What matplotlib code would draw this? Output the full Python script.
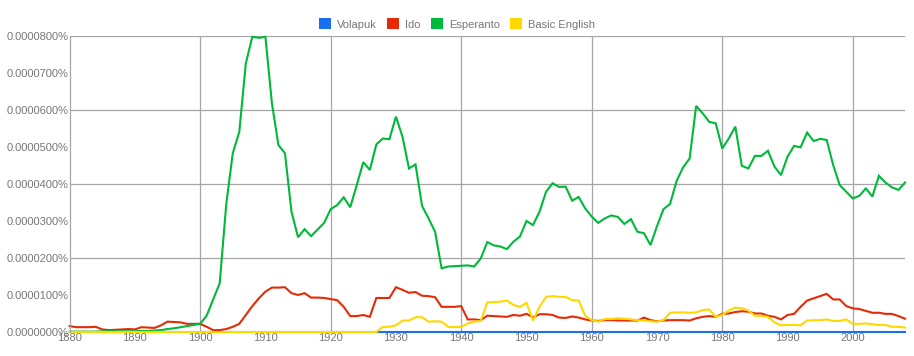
#!/usr/bin/env python3
''' Ngram-style chart: Volapuk, Ido, Esperanto, Basic English 1880-2008
'''

import numpy as np
import matplotlib
matplotlib.use('Agg')
from matplotlib import pyplot
from matplotlib.patches import Patch
from matplotlib.ticker import FuncFormatter

#
# data (values in units of 0.00001 %)
#

years = np.arange(1880, 2009)

volapuk = [
    0.00, 0.00, 0.00, 0.00, 0.00, 0.00, 0.00, 0.00, 0.00, 0.00,  # 1880
    0.00, 0.00, 0.00, 0.00, 0.00, 0.00, 0.00, 0.00, 0.00, 0.00,  # 1890
    0.00, 0.00, 0.00, 0.00, 0.00, 0.00, 0.00, 0.00, 0.00, 0.00,  # 1900
    0.00, 0.00, 0.00, 0.00, 0.00, 0.00, 0.00, 0.00, 0.00, 0.00,  # 1910
    0.00, 0.00, 0.00, 0.00, 0.00, 0.00, 0.00, 0.00, 0.00, 0.00,  # 1920
    0.00, 0.00, 0.00, 0.00, 0.00, 0.00, 0.00, 0.00, 0.00, 0.00,  # 1930
    0.00, 0.00, 0.00, 0.00, 0.00, 0.00, 0.00, 0.00, 0.00, 0.00,  # 1940
    0.00, 0.00, 0.00, 0.00, 0.00, 0.00, 0.00, 0.00, 0.00, 0.00,  # 1950
    0.00, 0.00, 0.00, 0.00, 0.00, 0.00, 0.00, 0.00, 0.00, 0.00,  # 1960
    0.00, 0.00, 0.00, 0.00, 0.00, 0.00, 0.00, 0.00, 0.00, 0.00,  # 1970
    0.00, 0.00, 0.00, 0.00, 0.00, 0.00, 0.00, 0.00, 0.00, 0.00,  # 1980
    0.00, 0.00, 0.00, 0.00, 0.00, 0.00, 0.00, 0.00, 0.00, 0.00,  # 1990
    0.00, 0.00, 0.00, 0.00, 0.00, 0.00, 0.00, 0.00, 0.00,        # 2000
]

ido = [
    0.16, 0.13, 0.13, 0.13, 0.14, 0.07, 0.05, 0.06, 0.07, 0.08,  # 1880
    0.07, 0.13, 0.12, 0.11, 0.18, 0.28, 0.27, 0.26, 0.22, 0.22,  # 1890
    0.22, 0.14, 0.05, 0.05, 0.08, 0.14, 0.22, 0.46, 0.70, 0.91,  # 1900
    1.09, 1.20, 1.20, 1.21, 1.05, 1.00, 1.05, 0.93, 0.93, 0.92,  # 1910
    0.89, 0.86, 0.68, 0.43, 0.43, 0.46, 0.41, 0.92, 0.92, 0.92,  # 1920
    1.21, 1.14, 1.06, 1.08, 0.98, 0.97, 0.94, 0.68, 0.68, 0.68,  # 1930
    0.70, 0.34, 0.34, 0.32, 0.44, 0.43, 0.42, 0.41, 0.46, 0.44,  # 1940
    0.49, 0.40, 0.48, 0.48, 0.46, 0.39, 0.38, 0.42, 0.39, 0.34,  # 1950
    0.31, 0.30, 0.32, 0.32, 0.31, 0.31, 0.31, 0.31, 0.39, 0.32,  # 1960
    0.29, 0.31, 0.32, 0.32, 0.32, 0.31, 0.37, 0.41, 0.43, 0.41,  # 1970
    0.49, 0.50, 0.54, 0.56, 0.55, 0.50, 0.50, 0.44, 0.41, 0.34,  # 1980
    0.46, 0.49, 0.68, 0.85, 0.91, 0.97, 1.03, 0.88, 0.88, 0.70,  # 1990
    0.64, 0.62, 0.57, 0.52, 0.52, 0.49, 0.49, 0.43, 0.36,        # 2000
]

esperanto = [
    0.01, 0.01, 0.01, 0.01, 0.01, 0.02, 0.02, 0.02, 0.02, 0.02,  # 1880
    0.02, 0.03, 0.03, 0.04, 0.05, 0.08, 0.10, 0.13, 0.16, 0.19,  # 1890
    0.22, 0.44, 0.88, 1.32, 3.45, 4.83, 5.41, 7.26, 7.98, 7.95,  # 1900
    7.98, 6.18, 5.05, 4.83, 3.25, 2.56, 2.78, 2.59, 2.77, 2.95,  # 1910
    3.32, 3.43, 3.64, 3.37, 3.97, 4.59, 4.38, 5.07, 5.23, 5.21,  # 1920
    5.82, 5.28, 4.42, 4.53, 3.41, 3.07, 2.71, 1.72, 1.77, 1.78,  # 1930
    1.79, 1.80, 1.77, 1.99, 2.43, 2.34, 2.31, 2.24, 2.44, 2.58,  # 1940
    3.00, 2.89, 3.25, 3.79, 4.02, 3.92, 3.93, 3.55, 3.65, 3.34,  # 1950
    3.12, 2.95, 3.07, 3.15, 3.11, 2.92, 3.05, 2.71, 2.67, 2.35,  # 1960
    2.86, 3.32, 3.46, 4.08, 4.45, 4.69, 6.11, 5.91, 5.68, 5.64,  # 1970
    4.96, 5.23, 5.55, 4.49, 4.42, 4.76, 4.76, 4.90, 4.47, 4.24,  # 1980
    4.74, 5.03, 4.99, 5.39, 5.16, 5.22, 5.19, 4.51, 3.97, 3.79,  # 1990
    3.61, 3.68, 3.88, 3.66, 4.22, 4.04, 3.91, 3.84, 4.04,        # 2000
]

basic_english = [
    0.00, 0.00, 0.00, 0.00, 0.00, 0.00, 0.00, 0.00, 0.00, 0.00,  # 1880
    0.00, 0.00, 0.00, 0.00, 0.00, 0.00, 0.00, 0.00, 0.00, 0.00,  # 1890
    0.00, 0.00, 0.00, 0.00, 0.00, 0.00, 0.00, 0.00, 0.00, 0.00,  # 1900
    0.00, 0.00, 0.00, 0.00, 0.00, 0.00, 0.00, 0.00, 0.00, 0.00,  # 1910
    0.00, 0.00, 0.00, 0.00, 0.00, 0.00, 0.00, 0.00, 0.14, 0.14,  # 1920
    0.18, 0.31, 0.31, 0.40, 0.40, 0.28, 0.29, 0.28, 0.14, 0.13,  # 1930
    0.14, 0.23, 0.28, 0.30, 0.80, 0.81, 0.82, 0.85, 0.73, 0.68,  # 1940
    0.79, 0.31, 0.68, 0.95, 0.97, 0.95, 0.95, 0.86, 0.85, 0.44,  # 1950
    0.32, 0.28, 0.35, 0.35, 0.37, 0.36, 0.34, 0.32, 0.31, 0.29,  # 1960
    0.28, 0.32, 0.52, 0.53, 0.53, 0.52, 0.53, 0.59, 0.61, 0.41,  # 1970
    0.46, 0.58, 0.66, 0.64, 0.58, 0.44, 0.44, 0.41, 0.26, 0.18,  # 1980
    0.19, 0.19, 0.18, 0.31, 0.32, 0.32, 0.34, 0.30, 0.30, 0.34,  # 1990
    0.22, 0.22, 0.23, 0.21, 0.19, 0.19, 0.14, 0.14, 0.12,        # 2000
]

series_names = ['Volapuk', 'Ido', 'Esperanto', 'Basic English']
series_values = [volapuk, ido, esperanto, basic_english]
series_colors = ['#1a6ff0', '#e62a05', '#00b93a', '#ffd800']

y_ticks = [0, 1, 2, 3, 4, 5, 6, 7, 8]
y_grid = [0, 2, 4, 6, 8]
x_ticks = list(range(1880, 2009, 10))
x_grid = [1900, 1920, 1940, 1960, 1980, 2000]

#
# plot
#

pyplot.rcParams['font.family'] = ['Liberation Sans', 'DejaVu Sans']

W, H = 914, 356
fig = pyplot.figure(figsize=(W / 100, H / 100), dpi=100)
ax = fig.add_axes([69.6 / W, 24 / H, (905 - 69.6) / W, 296 / H])

gridc = '#a6a6a6'
textc = '#777777'

for g in y_grid:
    ax.axhline(g, color=gridc, lw=0.9, zorder=0)
for g in x_grid:
    ax.axvline(g, color=gridc, lw=0.9, zorder=0)

# lines at zero sit on the bottom edge, so keep them unclipped
for name, vals, col in zip(series_names, series_values, series_colors):
    ax.plot(years, vals, color=col, lw=1.5, label=name,
            solid_joinstyle='miter', clip_on=False, zorder=2)

ax.set_xlim(1880, 2008)
ax.set_ylim(0, 8)
ax.set_xticks(x_ticks)
ax.set_yticks(y_ticks)
ax.yaxis.set_major_formatter(
    FuncFormatter(lambda v, p: '{:.7f}%'.format(v * 1e-5)))
ax.tick_params(length=0, labelsize=8, labelcolor=textc)
ax.tick_params(axis='y', pad=0.5)
ax.tick_params(axis='x', pad=0.8)

for s in ['top', 'right', 'bottom']:
    ax.spines[s].set_visible(False)
ax.spines['left'].set_color(gridc)
ax.spines['left'].set_linewidth(0.9)

handles = [Patch(facecolor=c, edgecolor='none') for c in series_colors]
fig.legend(handles, series_names, loc='center',
    bbox_to_anchor=(0.5, 1 - 24 / H), ncol=4, frameon=False,
    fontsize=8, labelcolor=textc, handlelength=1.08, handleheight=1.08,
    handletextpad=0.55, columnspacing=0.9, borderpad=0, borderaxespad=0)

fig.savefig('out.png', dpi=100)
